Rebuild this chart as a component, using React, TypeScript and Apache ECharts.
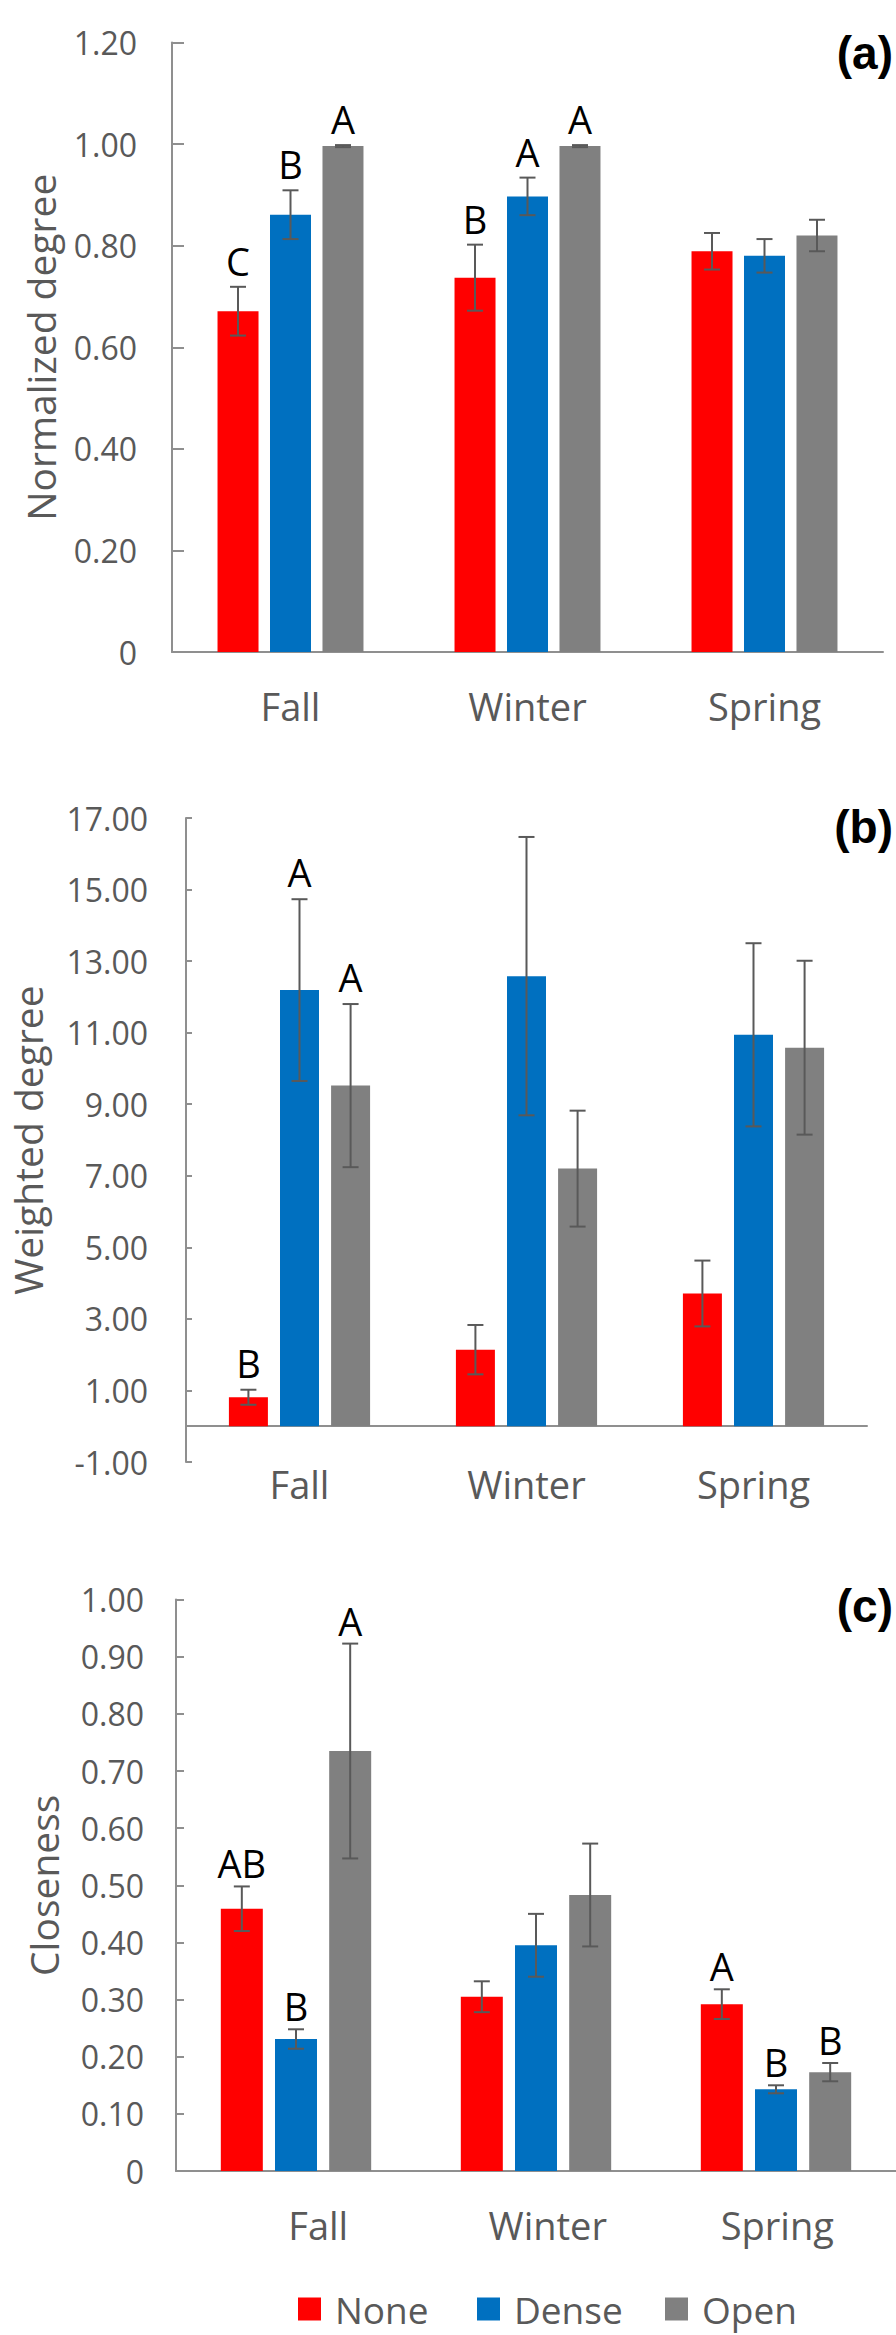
import React, { useEffect, useRef } from "react";
import * as echarts from "echarts";

const categories = ["Fall", "Winter", "Spring"];
const seriesNames = ["None", "Dense", "Open"];
const seriesColors = ["#FF0000", "#0070C0", "#808080"];

// (a) Normalized degree
const normNone = [0.671, 0.737, 0.789];
const normDense = [0.861, 0.897, 0.78];
const normOpen = [0.996, 0.996, 0.82];
const normNoneSE = [0.048, 0.065, 0.036];
const normDenseSE = [0.048, 0.037, 0.033];
const normOpenSE = [0.002, 0.002, 0.031];
const normNoneLetters = ["C", "B", ""];
const normDenseLetters = ["B", "A", ""];
const normOpenLetters = ["A", "A", ""];
const normTicks = { min: 0, max: 1.2, interval: 0.2 };

// (b) Weighted degree
const wNone = [0.81, 2.14, 3.71];
const wDense = [12.19, 12.58, 10.94];
const wOpen = [9.52, 7.2, 10.58];
const wNoneSE = [0.21, 0.69, 0.92];
const wDenseSE = [2.54, 3.89, 2.56];
const wOpenSE = [2.28, 1.62, 2.43];
const wNoneLetters = ["B", "", ""];
const wDenseLetters = ["A", "", ""];
const wOpenLetters = ["A", "", ""];
const wTicks = { min: -1, max: 17, interval: 2 };

// (c) Closeness
const cNone = [0.459, 0.305, 0.292];
const cDense = [0.231, 0.395, 0.143];
const cOpen = [0.735, 0.483, 0.173];
const cNoneSE = [0.039, 0.027, 0.026];
const cDenseSE = [0.017, 0.055, 0.007];
const cOpenSE = [0.188, 0.09, 0.016];
const cNoneLetters = ["AB", "", "A"];
const cDenseLetters = ["B", "", "B"];
const cOpenLetters = ["A", "", "B"];
const cTicks = { min: 0, max: 1, interval: 0.1 };

const panelLabels = ["(a)", "(b)", "(c)"];
const yTitles = ["Normalized degree", "Weighted degree", "Closeness"];

const TXT = "#595959";
const AXIS = "#8f8f8f";
const ERR = "#595959";
const FONT = "Open Sans";

const panels = [
  {
    means: [normNone, normDense, normOpen],
    ses: [normNoneSE, normDenseSE, normOpenSE],
    letters: [normNoneLetters, normDenseLetters, normOpenLetters],
    ticks: normTicks,
    grid: { left: 172, top: 42.5, width: 711, height: 609.5 },
    barWidth: 41, barGap: 0.28, tickLen: 12, labelMargin: 35, nameGap: 112,
    catMargin: 35, letterGap: 7,
  },
  {
    means: [wNone, wDense, wOpen],
    ses: [wNoneSE, wDenseSE, wOpenSE],
    letters: [wNoneLetters, wDenseLetters, wOpenLetters],
    ticks: wTicks,
    grid: { left: 179, top: 818, width: 688, height: 644 },
    barWidth: 39, barGap: 0.31, tickLen: 6, labelMargin: 38, nameGap: 139,
    catMargin: 3, letterGap: 8,
  },
  {
    means: [cNone, cDense, cOpen],
    ses: [cNoneSE, cDenseSE, cOpenSE],
    letters: [cNoneLetters, cDenseLetters, cOpenLetters],
    ticks: cTicks,
    grid: { left: 176, top: 1599.6, width: 723, height: 571.4 },
    barWidth: 42, barGap: 0.29, tickLen: 8, labelMargin: 32, nameGap: 113,
    catMargin: 35, letterGap: 4,
  },
];

const fmt = (v: number) => (Math.abs(v) < 1e-9 ? "0" : v.toFixed(2));

function buildOption() {
  const grids: any[] = [];
  const xAxes: any[] = [];
  const yAxes: any[] = [];
  const series: any[] = [];

  panels.forEach((p, pi) => {
    grids.push({ ...p.grid, containLabel: false });
    xAxes.push({
      type: "category",
      gridIndex: pi,
      data: categories,
      axisLine: { show: true, onZero: true, lineStyle: { color: AXIS, width: 2 } },
      axisTick: { show: false },
      axisLabel: {
        show: pi !== 2,
        margin: p.catMargin,
        fontSize: 38,
        color: TXT,
        fontFamily: FONT,
      },
      splitLine: { show: false },
    });
    yAxes.push({
      type: "value",
      gridIndex: pi,
      min: p.ticks.min,
      max: p.ticks.max,
      interval: p.ticks.interval,
      name: yTitles[pi],
      nameLocation: "middle",
      nameGap: p.nameGap,
      nameTextStyle: { fontSize: 39, color: TXT, fontFamily: FONT },
      axisLine: { show: true, lineStyle: { color: AXIS, width: 2 } },
      axisTick: { show: true, inside: true, length: p.tickLen, lineStyle: { color: AXIS, width: 2 } },
      axisLabel: { margin: p.labelMargin, fontSize: 32, color: TXT, fontFamily: FONT, formatter: fmt },
      splitLine: { show: false },
    });

    const step = p.barWidth * (1 + p.barGap);
    seriesNames.forEach((name, si) => {
      series.push({
        type: "bar",
        name,
        xAxisIndex: pi,
        yAxisIndex: pi,
        data: p.means[si],
        barWidth: p.barWidth,
        barGap: `${Math.round(p.barGap * 100)}%`,
        itemStyle: { color: seriesColors[si] },
        z: 2,
      });
    });
    seriesNames.forEach((name, si) => {
      const offset = (si - 1) * step;
      const letters = p.letters[si];
      series.push({
        type: "custom",
        name: "err-" + name + "-" + pi,
        xAxisIndex: pi,
        yAxisIndex: pi,
        z: 5,
        data: categories.map((_, j) => [j, p.means[si][j], p.ses[si][j]]),
        encode: { x: 0, y: 1 },
        renderItem: (params: any, api: any) => {
          const j = api.value(0);
          const m = api.value(1);
          const se = api.value(2);
          const c = api.coord([j, m]);
          const x = c[0] + offset;
          const yHi = api.coord([j, m + se])[1];
          const yLo = api.coord([j, m - se])[1];
          const hw = 8;
          const ls = { stroke: ERR, lineWidth: 2 };
          const children: any[] = [
            { type: "line", shape: { x1: x, y1: yHi, x2: x, y2: yLo }, style: ls },
            { type: "line", shape: { x1: x - hw, y1: yHi, x2: x + hw, y2: yHi }, style: ls },
            { type: "line", shape: { x1: x - hw, y1: yLo, x2: x + hw, y2: yLo }, style: ls },
          ];
          const letter = letters[params.dataIndex];
          if (letter) {
            children.push({
              type: "text",
              x,
              y: yHi - p.letterGap,
              style: {
                text: letter,
                fill: "#000000",
                fontSize: 38,
                fontFamily: FONT,
                align: "center",
                verticalAlign: "bottom",
              },
            });
          }
          return { type: "group", children };
        },
      });
    });
  });

  // Category labels for panel (c), drawn on their own axis (shifted in the source figure)
  grids.push({ left: 203.5, top: 1599.6, width: 688.5, height: 571.4 });
  xAxes.push({
    type: "category",
    gridIndex: 3,
    data: categories,
    axisLine: { show: false },
    axisTick: { show: false },
    axisLabel: { margin: 35, fontSize: 38, color: TXT, fontFamily: FONT },
    splitLine: { show: false },
  });
  yAxes.push({ type: "value", gridIndex: 3, show: false, min: 0, max: 1 });

  const legendLefts = [298, 477, 665];
  const legends = seriesNames.map((name, i) => ({
    data: [name],
    left: legendLefts[i],
    top: 2288,
    padding: 0,
    icon: "rect",
    itemWidth: 23,
    itemHeight: 23,
    selectedMode: false,
    textStyle: { fontSize: 37, lineHeight: 42, color: TXT, fontFamily: FONT, padding: [0, 0, 0, 9] },
  }));

  const labelYs = [55, 829, 1608];
  const graphic = panelLabels.map((t, i) => ({
    type: "text",
    right: 3,
    top: labelYs[i] - 25,
    style: {
      text: t,
      fill: "#000000",
      fontSize: 46,
      fontWeight: "bold",
      fontFamily: "Liberation Sans",
    },
  }));

  return {
    animation: false,
    backgroundColor: "#ffffff",
    textStyle: { fontFamily: FONT },
    grid: grids,
    xAxis: xAxes,
    yAxis: yAxes,
    legend: legends,
    graphic,
    series,
  };
}

export default function App() {
  const ref = useRef<HTMLDivElement>(null);
  useEffect(() => {
    if (!ref.current) return;
    const chart = echarts.init(ref.current, undefined, { renderer: "svg" });
    chart.setOption(buildOption() as any);
    return () => chart.dispose();
  }, []);
  return (
    <div
      ref={ref}
      style={{ position: "absolute", left: 0, top: 0, width: 896, height: 2335, background: "#fff" }}
    />
  );
}
